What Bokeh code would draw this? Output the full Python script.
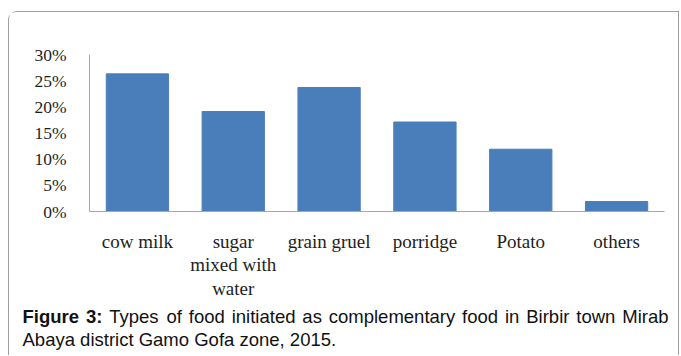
from bokeh.plotting import figure
from bokeh.models import (FactorRange, FixedTicker, NumeralTickFormatter, Range1d,
                          ColumnDataSource)
from bokeh.core.properties import value
from bokeh.embed import file_html
from bokeh.resources import INLINE

# ---- data ----
categories = ["cow milk", "sugar\nmixed with\nwater", "grain gruel", "porridge", "Potato", "others"]
shares = [0.263, 0.191, 0.237, 0.171, 0.119, 0.019]
y_ticks = [0, 0.05, 0.10, 0.15, 0.20, 0.25, 0.30]
caption_bold = "Figure 3:"
caption_line1 = "Types of food initiated as complementary food in Birbir town Mirab"
caption_line2 = "Abaya district Gamo Gofa zone, 2015."

# ---- layout (page pixels) ----
PAGE_W, PAGE_H = 681, 356
BOX_L, BOX_T = 8, 11                 # outer rounded box, top-left corner
OX, OY = BOX_L + 1, BOX_T + 1        # canvas origin inside the box border
CW = PAGE_W - OX - 1                 # canvas width (right border at x=680)
SPLIT = 304                          # page y where the caption panel starts
FL, FR, FT, FB = 89, 664, 54, 211    # chart frame in page pixels
BORDER = "1px solid #a0a0a0"

main_h = SPLIT - OY
p = figure(width=CW, height=main_h, output_backend="svg", toolbar_location=None,
           x_range=FactorRange(*categories, range_padding=0),
           y_range=(0, 0.30),
           min_border_left=FL - OX, min_border_right=OX + CW - FR,
           min_border_top=FT - OY, min_border_bottom=SPLIT - FB,
           styles={"margin-left": f"{BOX_L}px", "margin-top": f"{BOX_T}px",
                   "border-left": BORDER, "border-top": BORDER, "border-right": BORDER,
                   "border-top-left-radius": "9px", "background": "white"})
p.outline_line_color = None
p.grid.visible = False
p.background_fill_color = "white"
p.border_fill_color = "white"

src = ColumnDataSource(dict(cat=categories, val=shares))
p.vbar(x="cat", top="val", width=0.65, source=src, fill_color="#4a7ebb",
       line_color="#4a7ebb")

axis_col = "#a6a6a6"
txt_col = "#1e1e1e"
serif = "Liberation Serif"

xa = p.xaxis[0]
xa.axis_line_color = axis_col
xa.major_tick_line_color = None
xa.minor_tick_line_color = None
xa.major_label_text_font = serif
xa.major_label_text_font_size = "19px"
xa.major_label_text_color = txt_col
xa.major_label_standoff = 13
xa.major_label_text_line_height = 1.12

ya = p.yaxis[0]
ya.ticker = FixedTicker(ticks=y_ticks)
ya.formatter = NumeralTickFormatter(format="0%")
ya.axis_line_color = axis_col
ya.major_tick_line_color = None
ya.minor_tick_line_color = None
ya.major_label_text_font = serif
ya.major_label_text_font_size = "17.5px"
ya.major_label_text_color = txt_col
ya.major_label_standoff = 17

# ---- caption panel (separate root so its frame is not aligned to the chart) ----
cap_h = PAGE_H - SPLIT
cap = figure(width=CW, height=cap_h, output_backend="svg", toolbar_location=None,
             x_range=Range1d(OX, OX + CW), y_range=Range1d(PAGE_H, SPLIT),
             min_border=0, x_axis_type=None, y_axis_type=None,
             styles={"margin-left": f"{BOX_L}px",
                     "border-left": BORDER, "border-right": BORDER,
                     "background": "white"})
cap.outline_line_color = None
cap.grid.visible = False
cap.background_fill_color = "white"
cap.border_fill_color = "white"

# justified first line (Arial metrics = Liberation Sans metrics)
AW = {' ': 278, 'a': 556, 'b': 556, 'c': 500, 'd': 556, 'e': 556, 'f': 278, 'g': 556,
      'h': 556, 'i': 222, 'j': 222, 'k': 500, 'l': 222, 'm': 833, 'n': 556, 'o': 556,
      'p': 556, 'q': 556, 'r': 333, 's': 500, 't': 278, 'u': 556, 'v': 500, 'w': 722,
      'x': 500, 'y': 500, 'z': 500, 'T': 611, 'B': 667, 'M': 833, 'A': 667, 'G': 778,
      'F': 611, ',': 278, '.': 278, ':': 278}
BW = {'F': 611, 'i': 278, 'g': 611, 'u': 611, 'r': 389, 'e': 556, '3': 556, ':': 333}
fs = 18.5
def width(s, table):
    return sum(table.get(c, 556) for c in s) * fs / 1000.0

sans = "Liberation Sans"
x0, x1 = 22, 668
base1, base2 = 317, 340
tokens = [(t, True) for t in caption_bold.split(" ")] + [(t, False) for t in caption_line1.split(" ")]
widths = [width(t, BW if b else AW) for t, b in tokens]
gap = (x1 - x0 - sum(widths)) / (len(tokens) - 1)
xs, cur = [], x0
for w in widths:
    xs.append(cur)
    cur += w + gap
bold_x = [x for x, (t, b) in zip(xs, tokens) if b]
bold_t = [t for t, b in tokens if b]
reg_x = [x for x, (t, b) in zip(xs, tokens) if not b]
reg_t = [t for t, b in tokens if not b]

cap.text(x=bold_x, y=[base1] * len(bold_x), text=bold_t, text_font=value(sans),
         text_font_size=f"{fs}px", text_font_style="bold", text_color="#111111",
         text_baseline="alphabetic", text_align="left")
cap.text(x=reg_x + [x0], y=[base1] * len(reg_x) + [base2], text=reg_t + [caption_line2],
         text_font=value(sans), text_font_size=f"{fs}px", text_color="#111111",
         text_baseline="alphabetic", text_align="left")

open("out.html", "w").write(file_html([p, cap], INLINE))
